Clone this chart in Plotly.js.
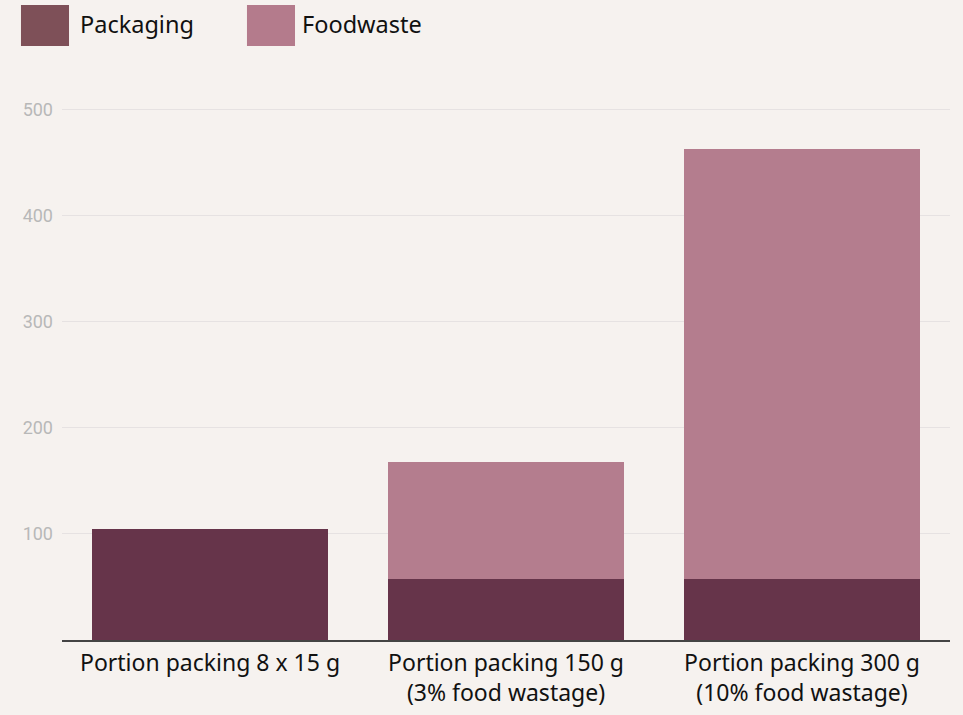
<!DOCTYPE html>
<html>
<head>
<meta charset="utf-8">
<script src="https://cdn.plot.ly/plotly-3.0.1.min.js"></script>
<style>html,body{margin:0;padding:0;background:#f6f2ef;}#chart{width:963px;height:715px;}</style>
</head>
<body>
<div id="chart"></div>
<script>
const categories = ["Portion packing 8 x 15 g", "Portion packing 150 g<br>(3% food wastage)", "Portion packing 300 g<br>(10% food wastage)"];
const packaging = [105, 57, 57];
const foodwaste = [0, 111, 406];
const seriesNames = ["Packaging", "Foodwaste"];
const barColors = ["#66344a", "#b47d8e"];
const legendColors = ["#7e5058", "#b47b8c"];
const yTicks = [100, 200, 300, 400, 500];

const traces = [
  {type: "bar", name: seriesNames[0], x: categories, y: packaging, marker: {color: barColors[0]}, hoverinfo: "none"},
  {type: "bar", name: seriesNames[1], x: categories, y: foodwaste, marker: {color: barColors[1]}, hoverinfo: "none"}
];

const legendPos = [
  {x0: -0.0462, x1: 0.0079, tx: 0.0180},
  {x0: 0.2083, x1: 0.2624, tx: 0.2680}
];
const shapes = legendPos.map((p, i) => ({
  type: "rect", xref: "paper", yref: "paper",
  x0: p.x0, x1: p.x1, y0: 1.0761, y1: 1.1504,
  fillcolor: legendColors[i], line: {width: 0}
}));
const annotations = legendPos.map((p, i) => ({
  xref: "paper", yref: "paper", x: p.tx, y: 1.1160,
  xanchor: "left", yanchor: "middle", showarrow: false,
  text: seriesNames[i], font: {family: "Noto Sans, Open Sans, sans-serif", size: 23.5, color: "#111"}
}));

const layout = {
  width: 963, height: 715,
  paper_bgcolor: "#f6f2ef", plot_bgcolor: "#f6f2ef",
  margin: {l: 62, r: 13, t: 88, b: 75},
  barmode: "stack", bargap: 0.2,
  showlegend: false,
  xaxis: {
    showline: true, linecolor: "#444", linewidth: 1.5,
    ticks: "", showgrid: false, ticklabelstandoff: 2,
    tickfont: {family: "Noto Sans, Open Sans, sans-serif", size: 23, color: "#111"}
  },
  yaxis: {
    range: [0, 520], tickvals: yTicks, ticktext: yTicks.map(String),
    showgrid: true, gridcolor: "#e6e2e2", gridwidth: 1,
    zeroline: false, showline: false, ticks: "", ticklabelstandoff: 8,
    tickfont: {family: "Roboto, sans-serif", size: 18, color: "#b8b8b8"}
  },
  shapes: shapes,
  annotations: annotations
};

Plotly.newPlot("chart", traces, layout, {displayModeBar: false, staticPlot: true});
</script>
</body>
</html>
